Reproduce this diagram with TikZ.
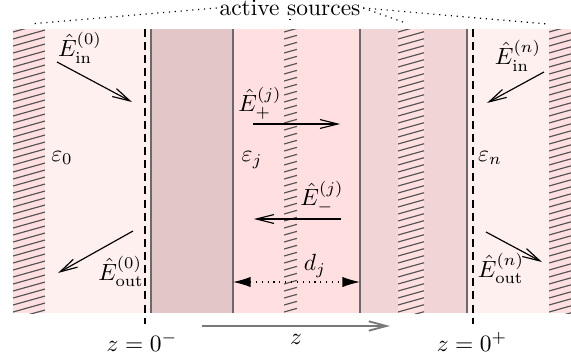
\documentclass[tikz,border=0pt]{standalone}
\usetikzlibrary{arrows.meta}
\definecolor{lightreg}{HTML}{FFF0F0}
\definecolor{layerj}{HTML}{FFDFE0}
\definecolor{darkreg}{HTML}{E3C6C8}
\definecolor{medreg}{HTML}{F0D4D6}
\definecolor{hatchbg}{HTML}{FFDFE0}
\definecolor{hatchln}{HTML}{555555}
\definecolor{bound}{HTML}{6A6A6A}
\tikzset{
  wave/.style={line width=0.5pt,-{Straight Barb[length=7.5pt,width=3.8pt]}},
  zaxis/.style={line width=0.8pt,draw=bound!90,-{Straight Barb[length=7.5pt,width=4pt]}},
  boundary/.style={line width=0.7pt,draw=bound},
  planeline/.style={line width=0.45pt,dash pattern=on 3.4pt off 2.2pt},
  srcline/.style={dotted,line width=0.5pt},
  dimline/.style={dotted,line width=0.5pt,{Latex[length=7.5pt,width=4.4pt]}-{Latex[length=7.5pt,width=4.4pt]}},
  lbl/.style={inner sep=1pt},
}
\newcommand{\hatchstrip}[2]{%
  \fill[hatchbg] (#1,29) rectangle (#2,313);
  \begin{scope}
    \clip (#1,29) rectangle (#2,313);
    \foreach \yy in {18,25,...,340} {
      \draw[hatchln,line width=0.5pt] (#1,\yy) -- (#2,{\yy-0.28*(#2-#1)});
    }
  \end{scope}}
\begin{document}
\begin{tikzpicture}[x=0.015cm,y=-0.015cm]
\useasboundingbox (0,0) rectangle (571,359);
% regions
\fill[lightreg] (45,29) rectangle (151,313);
\fill[darkreg] (151,29) rectangle (233,313);
\fill[layerj] (233,29) rectangle (360,313);
\fill[medreg] (360,29) rectangle (468,313);
\fill[lightreg] (468,29) rectangle (549,313);
% hatched active sources
\hatchstrip{13}{45}
\hatchstrip{284}{297}
\hatchstrip{398}{424}
\hatchstrip{549}{571}
% boundaries
\draw[boundary] (151,29) -- (151,313);
\draw[boundary] (233,29) -- (233,313);
\draw[boundary] (360,29) -- (360,313);
\draw[boundary] (467,29) -- (467,313);
\draw[planeline] (145,29) -- (145,324);
\draw[planeline] (473,29) -- (473,324);
% active sources label
\node[lbl] (src) at (290,8) {active sources};
\coordinate (s0) at (30,24);
\coordinate (s1) at (290,20);
\coordinate (s2) at (403,22);
\coordinate (s3) at (547,24);
\draw[srcline] (src.west) -- (s0);
\draw[srcline] (src.south) -- (s1);
\draw[srcline] (src.east) -- (s2);
\draw[srcline] (src.east) -- (s3);
% permittivities
\node[lbl] (e0) at (62,158) {$\varepsilon_0$};
\node[lbl] (ej) at (252,160) {$\varepsilon_j$};
\node[lbl] (en) at (490,158) {$\varepsilon_n$};
% waves
\coordinate (a1) at (57,62);  \coordinate (a2) at (132,102);
\draw[wave] (a1) -- (a2);
\node[lbl] (lin0) at (80,48) {$\hat E^{(0)}_{\mathrm{in}}$};
\coordinate (b1) at (133,231); \coordinate (b2) at (58,273);
\draw[wave] (b1) -- (b2);
\node[lbl] (lout0) at (121,271) {$\hat E^{(0)}_{\mathrm{out}}$};
\coordinate (c1) at (544,72);  \coordinate (c2) at (487,103);
\draw[wave] (c1) -- (c2);
\node[lbl] (linn) at (518,56) {$\hat E^{(n)}_{\mathrm{in}}$};
\coordinate (d1) at (486,232); \coordinate (d2) at (542,262);
\draw[wave] (d1) -- (d2);
\node[lbl] (loutn) at (501,268) {$\hat E^{(n)}_{\mathrm{out}}$};
\coordinate (p1) at (253,124); \coordinate (p2) at (340,124);
\draw[wave] (p1) -- (p2);
\node[lbl] (lp) at (260,103) {$\hat E^{(j)}_{+}$};
\coordinate (m1) at (341,219); \coordinate (m2) at (254,219);
\draw[wave] (m1) -- (m2);
\node[lbl] (lm) at (322,197) {$\hat E^{(j)}_{-}$};
% thickness
\coordinate (dL) at (233,282); \coordinate (dR) at (360,282);
\draw[dimline] (dL) -- (dR);
\node[lbl] (dj) at (315,266) {$d_j$};
% z axis
\coordinate (z1) at (202,326); \coordinate (z2) at (390,326);
\draw[zaxis] (z1) -- (z2);
\node[lbl] (zl) at (142,342) {$z=0^-$};
\node[lbl] (zz) at (296,339) {$z$};
\node[lbl] (zr) at (472,342) {$z=0^+$};
\end{tikzpicture}
\end{document}
